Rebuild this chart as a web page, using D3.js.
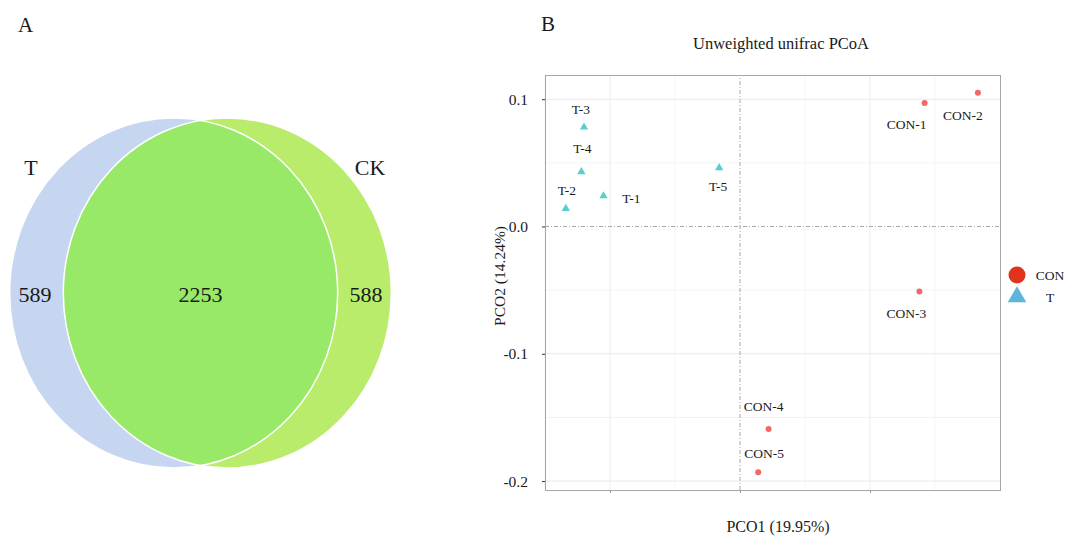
<!DOCTYPE html>
<html>
<head>
<meta charset="utf-8">
<script src="https://cdn.jsdelivr.net/npm/d3@7"></script>
<style>
    body { margin: 0; background: #fff; }
    text { font-family: "Liberation Serif", "Times New Roman", serif; fill: #1a1a1a; }
</style>
</head>
<body>
<svg width="1068" height="537"></svg>
<script>
// Venn (panel A)
const setNames = ['T', 'CK'];
const uniqueCounts = [589, 588];
const sharedCount = 2253;

// PCoA (panel B)
const sampleNames = ['T-1', 'T-2', 'T-3', 'T-4', 'T-5', 'CON-1', 'CON-2', 'CON-3', 'CON-4', 'CON-5'];
const sampleGroups = ['T', 'T', 'T', 'T', 'T', 'CON', 'CON', 'CON', 'CON', 'CON'];
const pco1 = [-0.105, -0.134, -0.120, -0.122, -0.016, 0.142, 0.183, 0.138, 0.022, 0.014];
const pco2 = [0.024, 0.014, 0.078, 0.043, 0.046, 0.097, 0.105, -0.051, -0.159, -0.193];
const yTicks = [0.1, 0.0, -0.1, -0.2];
const yTickLabels = ['0.1', '0.0', '-0.1', '-0.2'];
const xTicks = [-0.1, 0.0, 0.1];
const xMinor = [-0.15, -0.05, 0.05, 0.15];
const yMinor = [0.05, -0.05, -0.15];
const legendGroups = ['CON', 'T'];

let svg = d3.select('svg');

// ---------- panel A ----------
svg.append('text').attr('x', 18).attr('y', 32).style('font-size', '21px').text('A');

// distance between two unit circles so the lens holds the shared share
let setSize = uniqueCounts[0] + sharedCount;
let target = sharedCount / setSize * Math.PI;
let lens = function (d) {
    return 2 * Math.acos(d / 2) - (d / 2) * Math.sqrt(4 - d * d);
};
let lo = 0, hi = 2;
for (let k = 0; k < 60; k++) {
    let mid = (lo + hi) / 2;
    if (lens(mid) > target) lo = mid; else hi = mid;
}
let dist = (lo + hi) / 2;

let xV = d3.scaleLinear([-1, 1], [36.5, 364.5]);
let yV = d3.scaleLinear([-1, 1], [118, 468]);
let rx = xV(1) - xV(0), ry = yV(1) - yV(0);
let centers = [-dist / 2, dist / 2];
let vennColors = ['#c6d6f0', '#b8ec6a'];

let defs = svg.append('defs');
defs.append('clipPath').attr('id', 'clipT')
    .append('ellipse')
    .attr('cx', xV(centers[0])).attr('cy', yV(0))
    .attr('rx', rx).attr('ry', ry);

let venn = svg.append('g');
venn.selectAll('ellipse.fill')
    .data(centers)
    .enter()
    .append('ellipse')
    .attr('class', 'fill')
    .attr('cx', function (d) { return xV(d); })
    .attr('cy', yV(0))
    .attr('rx', rx).attr('ry', ry)
    .style('fill', function (d, i) { return vennColors[i]; });

venn.append('ellipse')
    .attr('cx', xV(centers[1])).attr('cy', yV(0))
    .attr('rx', rx).attr('ry', ry)
    .attr('clip-path', 'url(#clipT)')
    .style('fill', '#98e967');

venn.selectAll('ellipse.edge')
    .data(centers)
    .enter()
    .append('ellipse')
    .attr('class', 'edge')
    .attr('cx', function (d) { return xV(d); })
    .attr('cy', yV(0))
    .attr('rx', rx).attr('ry', ry)
    .style('fill', 'none')
    .style('stroke', '#fff')
    .style('stroke-width', 1.5);

venn.selectAll('text.set')
    .data(setNames)
    .enter()
    .append('text')
    .attr('class', 'set')
    .attr('x', function (d, i) { return i === 0 ? 31 : 370; })
    .attr('y', 175)
    .attr('text-anchor', 'middle')
    .style('font-size', '22px')
    .text(function (d) { return d; });

venn.selectAll('text.count')
    .data(uniqueCounts)
    .enter()
    .append('text')
    .attr('class', 'count')
    .attr('x', function (d, i) { return i === 0 ? 35 : 366; })
    .attr('y', 302)
    .attr('text-anchor', 'middle')
    .style('font-size', '22px')
    .text(function (d) { return d; });

venn.append('text')
    .attr('x', xV(0)).attr('y', 302)
    .attr('text-anchor', 'middle')
    .style('font-size', '22px')
    .text(sharedCount);

// ---------- panel B ----------
svg.append('text').attr('x', 541).attr('y', 31).style('font-size', '21px').text('B');

let x = d3.scaleLinear([-0.15, 0.2], [545, 1000]);
let y = d3.scaleLinear([-0.207, 0.119], [490, 75]);

let plot = svg.append('g');

plot.selectAll('line.xminor')
    .data(xMinor)
    .enter()
    .append('line')
    .attr('x1', function (d) { return x(d); }).attr('x2', function (d) { return x(d); })
    .attr('y1', y.range()[0]).attr('y2', y.range()[1])
    .style('stroke', '#f5f5f5');

plot.selectAll('line.yminor')
    .data(yMinor)
    .enter()
    .append('line')
    .attr('x1', x.range()[0]).attr('x2', x.range()[1])
    .attr('y1', function (d) { return y(d); }).attr('y2', function (d) { return y(d); })
    .style('stroke', '#f3f3f3');

plot.selectAll('line.xmajor')
    .data(xTicks.filter(function (d) { return d !== 0; }))
    .enter()
    .append('line')
    .attr('x1', function (d) { return x(d); }).attr('x2', function (d) { return x(d); })
    .attr('y1', y.range()[0]).attr('y2', y.range()[1])
    .style('stroke', '#ebebeb');

plot.selectAll('line.ymajor')
    .data(yTicks.filter(function (d) { return d !== 0; }))
    .enter()
    .append('line')
    .attr('x1', x.range()[0]).attr('x2', x.range()[1])
    .attr('y1', function (d) { return y(d); }).attr('y2', function (d) { return y(d); })
    .style('stroke', '#e8e8e8');

// zero lines
plot.append('line')
    .attr('x1', x(0)).attr('x2', x(0))
    .attr('y1', y.range()[0]).attr('y2', y.range()[1])
    .style('stroke', '#a8a8a8').style('stroke-dasharray', '4,2,1,2');
plot.append('line')
    .attr('x1', x.range()[0]).attr('x2', x.range()[1])
    .attr('y1', y(0)).attr('y2', y(0))
    .style('stroke', '#a8a8a8').style('stroke-dasharray', '4,2,1,2');

plot.append('rect')
    .attr('x', 545.5).attr('y', 75.5)
    .attr('width', x.range()[1] - x.range()[0])
    .attr('height', y.range()[0] - y.range()[1])
    .style('fill', 'none')
    .style('stroke', '#a6a6a6');

// axes
let yAxis = plot.append('g')
    .attr('transform', 'translate(545,0)')
    .call(d3.axisLeft(y).tickValues(yTicks).tickSize(3).tickPadding(14)
        .tickFormat(function (d, i) { return yTickLabels[i]; }));
yAxis.select('.domain').remove();
yAxis.selectAll('text').style('font-size', '15.5px').style('font-family', '"Liberation Serif", serif').style('fill', '#1a1a1a');
yAxis.selectAll('line').style('stroke', '#333');

let xAxis = plot.append('g')
    .attr('transform', 'translate(0,490)')
    .call(d3.axisBottom(x).tickValues(xTicks).tickSize(3).tickFormat(''));
xAxis.select('.domain').remove();
xAxis.selectAll('line').style('stroke', '#999');

// points
let colorPoint = {CON: '#f26868', T: '#55d0cb'};
let triangle = d3.symbol(d3.symbolTriangle).size(30);

let points = plot.append('g');
sampleNames.forEach(function (name, i) {
    if (sampleGroups[i] === 'CON') {
        points.append('circle')
            .attr('cx', x(pco1[i])).attr('cy', y(pco2[i])).attr('r', 3)
            .style('fill', colorPoint.CON);
    } else {
        points.append('path')
            .attr('d', triangle)
            .attr('transform', 'translate(' + x(pco1[i]) + ',' + y(pco2[i]) + ')')
            .style('fill', colorPoint.T);
    }
});

// label nudges (px), as placed by the original repel layout
let labelNudge = [[28, 3], [1, -18], [-3, -18], [1, -23], [-1, 19], [-18, 21], [-15, 23], [-13, 22], [-5, -22], [6, -19]];

plot.selectAll('text.sample')
    .data(sampleNames)
    .enter()
    .append('text')
    .attr('class', 'sample')
    .attr('x', function (d, i) { return x(pco1[i]) + labelNudge[i][0]; })
    .attr('y', function (d, i) { return y(pco2[i]) + labelNudge[i][1]; })
    .attr('text-anchor', 'middle')
    .attr('dominant-baseline', 'central')
    .style('font-size', '13.5px')
    .text(function (d) { return d; });

// titles
svg.append('text')
    .attr('x', 781).attr('y', 49)
    .attr('text-anchor', 'middle')
    .style('font-size', '16.5px')
    .text('Unweighted unifrac PCoA');

svg.append('text')
    .attr('x', 778).attr('y', 532)
    .attr('text-anchor', 'middle')
    .style('font-size', '16px')
    .text('PCO1 (19.95%)');

svg.append('text')
    .attr('transform', 'translate(505,276) rotate(-90)')
    .attr('text-anchor', 'middle')
    .style('font-size', '15.5px')
    .text('PCO2 (14.24%)');

// legend
let legendColor = {CON: '#e2311d', T: '#5db6d9'};
let legend = svg.append('g').attr('transform', 'translate(1017,275)');
legendGroups.forEach(function (g, i) {
    if (g === 'CON') {
        legend.append('circle').attr('cx', 0).attr('cy', i * 22).attr('r', 8.5)
            .style('fill', legendColor.CON);
    } else {
        legend.append('path')
            .attr('d', d3.symbol(d3.symbolTriangle).size(150))
            .attr('transform', 'translate(0,' + (i * 22) + ')')
            .style('fill', legendColor.T);
    }
    legend.append('text')
        .attr('x', 33).attr('y', i * 22)
        .attr('text-anchor', 'middle')
        .attr('dominant-baseline', 'central')
        .style('font-size', '13.5px')
        .text(g);
});
</script>
</body>
</html>
